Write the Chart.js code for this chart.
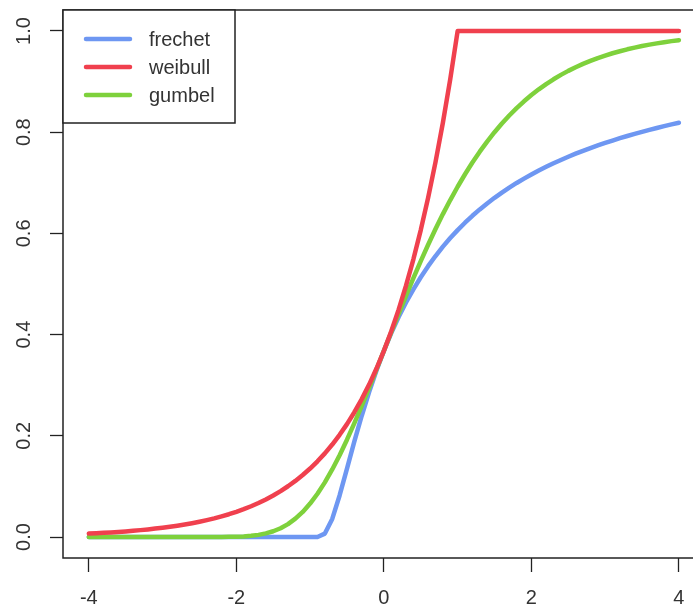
<!DOCTYPE html>
<html>
<head>
<meta charset="utf-8">
<script src="https://cdn.jsdelivr.net/npm/chart.js@4.4.0/dist/chart.umd.min.js"></script>
<style>
  html, body { margin: 0; padding: 0; background: #fff; overflow: hidden; }
  #wrap { width: 705px; height: 610px; }
</style>
</head>
<body>
<div id="wrap"><canvas id="grafica" width="705" height="610"></canvas></div>
<script>
// x grid used for the three curves
var xValues = [-4, -3.9, -3.8, -3.7, -3.6, -3.5, -3.4, -3.3, -3.2, -3.1,
               -3, -2.9, -2.8, -2.7, -2.6, -2.5, -2.4, -2.3, -2.2, -2.1,
               -2, -1.9, -1.8, -1.7, -1.6, -1.5, -1.4, -1.3, -1.2, -1.1,
               -1, -0.9, -0.8, -0.7, -0.6, -0.5, -0.4, -0.3, -0.2, -0.1,
               0, 0.1, 0.2, 0.3, 0.4, 0.5, 0.6, 0.7, 0.8, 0.9,
               1, 1.1, 1.2, 1.3, 1.4, 1.5, 1.6, 1.7, 1.8, 1.9,
               2, 2.1, 2.2, 2.3, 2.4, 2.5, 2.6, 2.7, 2.8, 2.9,
               3, 3.1, 3.2, 3.3, 3.4, 3.5, 3.6, 3.7, 3.8, 3.9,
               4];

var frechet = [0, 0, 0, 0, 0, 0, 0, 0, 0, 0,
               0, 0, 0, 0, 0, 0, 0, 0, 0, 0,
               0, 0, 0, 0, 0, 0, 0, 0, 0, 0,
               0, 0, 0.0067, 0.0357, 0.0821, 0.1353, 0.1889, 0.2397, 0.2865, 0.3292,
               0.3679, 0.4029, 0.4346, 0.4634, 0.4895, 0.5134, 0.5353, 0.5553, 0.5738, 0.5908,
               0.6065, 0.6211, 0.6348, 0.6474, 0.6592, 0.6703, 0.6807, 0.6905, 0.6997, 0.7083,
               0.7165, 0.7243, 0.7316, 0.7386, 0.7452, 0.7515, 0.7575, 0.7632, 0.7686, 0.7738,
               0.7788, 0.7835, 0.7881, 0.7925, 0.7967, 0.8007, 0.8046, 0.8083, 0.8119, 0.8154,
               0.8187];

var weibull = [0.0067, 0.0074, 0.0082, 0.0091, 0.0101, 0.0111, 0.0123, 0.0136, 0.0150, 0.0166,
               0.0183, 0.0202, 0.0224, 0.0247, 0.0273, 0.0302, 0.0334, 0.0369, 0.0408, 0.0450,
               0.0498, 0.0550, 0.0608, 0.0672, 0.0743, 0.0821, 0.0907, 0.1003, 0.1108, 0.1225,
               0.1353, 0.1496, 0.1653, 0.1827, 0.2019, 0.2231, 0.2466, 0.2725, 0.3012, 0.3329,
               0.3679, 0.4066, 0.4493, 0.4966, 0.5488, 0.6065, 0.6703, 0.7408, 0.8187, 0.9048,
               1, 1, 1, 1, 1, 1, 1, 1, 1, 1,
               1, 1, 1, 1, 1, 1, 1, 1, 1, 1,
               1, 1, 1, 1, 1, 1, 1, 1, 1, 1,
               1];

var gumbel = [0, 0, 0, 0, 0, 0, 0, 0, 0, 0,
              0, 0, 0, 0, 0, 0, 0, 0, 0.0001, 0.0003,
              0.0006, 0.0012, 0.0024, 0.0042, 0.0071, 0.0113, 0.0173, 0.0255, 0.0362, 0.0496,
              0.0660, 0.0855, 0.1080, 0.1335, 0.1617, 0.1923, 0.2250, 0.2593, 0.2948, 0.3312,
              0.3679, 0.4046, 0.4410, 0.4767, 0.5116, 0.5452, 0.5776, 0.6086, 0.6381, 0.6659,
              0.6922, 0.7169, 0.7400, 0.7615, 0.7815, 0.8000, 0.8172, 0.8330, 0.8476, 0.8611,
              0.8734, 0.8847, 0.8951, 0.9046, 0.9133, 0.9212, 0.9284, 0.9350, 0.9410, 0.9465,
              0.9514, 0.9560, 0.9600, 0.9638, 0.9671, 0.9703, 0.9730, 0.9756, 0.9779, 0.9800,
              0.9819];

var xTicks = [-4, -2, 0, 2, 4];
var yTicks = [0, 0.2, 0.4, 0.6, 0.8, 1.0];

function puntos(serie) {
    return xValues.map(function(x, i) { return { x: x, y: serie[i] }; });
}

var fuente = 'Liberation Sans, Arial, sans-serif';

// box around the plot + R style legend in the top left corner
var cajaR = {
    id: 'cajaR',
    afterDraw: function(chart) {
        var ctx = chart.ctx;
        var a = chart.chartArea;
        ctx.save();
        ctx.strokeStyle = '#222';
        ctx.lineWidth = 1.5;
        ctx.strokeRect(a.left, a.top, a.right - a.left, a.bottom - a.top);

        /* legend */
        var lx = a.left, ly = a.top;
        ctx.fillStyle = '#fff';
        ctx.fillRect(lx, ly, 172, 113);
        ctx.strokeRect(lx, ly, 172, 113);
        ctx.font = '20px ' + fuente;
        ctx.textBaseline = 'middle';
        chart.data.datasets.forEach(function(ds, i) {
            var y = ly + 29 + i * 28;
            ctx.strokeStyle = ds.borderColor;
            ctx.lineWidth = 4.5;
            ctx.lineCap = 'round';
            ctx.beginPath();
            ctx.moveTo(lx + 23, y);
            ctx.lineTo(lx + 67, y);
            ctx.stroke();
            ctx.fillStyle = '#333';
            ctx.fillText(ds.label, lx + 86, y + 1);
        });
        ctx.restore();
    }
};

var config = {
    type: 'line',
    data: {
        datasets: [{
            label: 'frechet',
            data: puntos(frechet),
            borderColor: '#6e97f2',
            order: 3
        }, {
            label: 'weibull',
            data: puntos(weibull),
            borderColor: '#f0404e',
            order: 1
        }, {
            label: 'gumbel',
            data: puntos(gumbel),
            borderColor: '#7ed13c',
            order: 2
        }]
    },
    options: {
        responsive: false,
        animation: false,
        devicePixelRatio: 1,
        layout: { padding: { top: 10, right: 1, left: 0, bottom: 0 } },
        elements: {
            line: { borderWidth: 4.5, tension: 0, fill: false, borderCapStyle: 'round', borderJoinStyle: 'round' },
            point: { radius: 0, hoverRadius: 0 }
        },
        plugins: {
            legend: { display: false },
            tooltip: { enabled: false }
        },
        scales: {
            x: {
                type: 'linear',
                min: -4.35,
                max: 4.34,
                afterBuildTicks: function(s) { s.ticks = xTicks.map(function(v) { return { value: v }; }); },
                afterFit: function(s) { s.height = 52; s.paddingLeft = 0; s.paddingRight = 0; },
                grid: { display: true, drawOnChartArea: false, drawTicks: true, tickLength: 14, tickColor: '#222', tickWidth: 1.3 },
                border: { display: false },
                ticks: {
                    autoSkip: false,
                    maxRotation: 0,
                    padding: 14,
                    color: '#333',
                    font: { family: fuente, size: 20 }
                }
            },
            y: {
                type: 'linear',
                min: -0.0415,
                max: 1.0415,
                afterBuildTicks: function(s) { s.ticks = yTicks.map(function(v) { return { value: v }; }); },
                afterFit: function(s) { s.width = 63; s.paddingTop = 0; s.paddingBottom = 0; },
                grid: { display: true, drawOnChartArea: false, drawTicks: true, tickLength: 13, tickColor: '#222', tickWidth: 1.3 },
                border: { display: false },
                ticks: {
                    autoSkip: false,
                    minRotation: 90,
                    maxRotation: 90,
                    crossAlign: 'center',
                    padding: 12,
                    color: '#333',
                    font: { family: fuente, size: 20 },
                    callback: function(v) { return Number(v).toFixed(1); }
                }
            }
        }
    },
    plugins: [cajaR]
};

var ctx = document.getElementById('grafica').getContext('2d');
window.myChart = new Chart(ctx, config);
</script>
</body>
</html>
